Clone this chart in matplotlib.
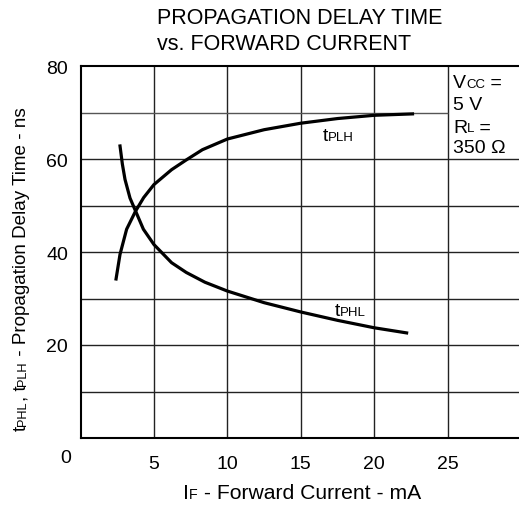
import matplotlib
matplotlib.use("Agg")
import matplotlib.pyplot as plt

plt.rcParams['font.family'] = ['Liberation Sans', 'DejaVu Sans']

# data
tplh_x = [2.42, 2.69, 3.14, 3.75, 4.3, 5.0, 6.2, 7.2, 8.3, 10.0, 12.5, 15.0, 17.5, 20.0, 22.6]
tplh_y = [34.2, 39.5, 44.9, 48.8, 51.7, 54.5, 57.7, 59.8, 62.0, 64.3, 66.3, 67.7, 68.7, 69.4, 69.7]
tphl_x = [2.69, 2.85, 3.03, 3.37, 3.75, 4.28, 5.0, 6.2, 7.2, 8.47, 10.0, 12.5, 15.0, 17.5, 20.0, 22.2]
tphl_y = [62.8, 58.9, 55.6, 51.6, 48.8, 44.9, 41.6, 37.7, 35.6, 33.5, 31.6, 29.1, 27.1, 25.3, 23.7, 22.6]
x_ticks = [5, 10, 15, 20, 25]
y_ticks = [20, 40, 60, 80]
x_grid = [5, 10, 15, 20, 25]
y_grid = [10, 20, 30, 40, 50, 60]

BIG = 14
SMALL = 9.5
DESC = 0.21  # rough descent of the font, in em


def chain(ax, x, y, parts, transform, rotation=0, holder=None, big=BIG, small=SMALL):
    # draw text pieces one after another, small pieces for subscripts,
    # shifted so that all pieces sit on one baseline
    holder = holder or ax
    shift = (big - small) * DESC
    first_txt, first_small = parts[0]
    was_small = first_small
    if rotation == 0:
        prev = holder.text(x, y, first_txt, fontsize=small if first_small else big,
                           transform=transform, ha='left', va='bottom')
    else:
        prev = holder.text(x, y, first_txt, fontsize=small if first_small else big,
                           transform=transform, ha='right', va='bottom', rotation=90)
    for txt, is_small in parts[1:]:
        d = 0.0
        if is_small and not was_small:
            d = shift
        elif was_small and not is_small:
            d = -shift
        if rotation == 0:
            prev = ax.annotate(txt, xy=(1, 0), xycoords=prev, xytext=(0, d),
                               textcoords='offset points',
                               fontsize=small if is_small else big,
                               ha='left', va='bottom', annotation_clip=False)
        else:
            prev = ax.annotate(txt, xy=(1, 1), xycoords=prev, xytext=(-d, 0),
                               textcoords='offset points',
                               fontsize=small if is_small else big,
                               ha='right', va='bottom', rotation=90,
                               annotation_clip=False)
        was_small = is_small


fig = plt.figure(figsize=(5.19, 5.10), dpi=100)
W, H = 519.0, 510.0
ax = fig.add_axes([80.5 / W, 1 - 439 / H, 1 - 80.5 / W, (439 - 67) / H])
ax.set_xlim(0, 29.85)
ax.set_ylim(0, 80)

for gx in x_grid:
    ax.vlines(gx, 0, 80, color='#222222', lw=1.0, zorder=1)
for gy in y_grid:
    ax.hlines(gy, 0, 29.85, color='#222222', lw=1.0, zorder=1)
ax.hlines(70, 0, 25, color='#555555', lw=1.0, zorder=1)

ax.plot(tplh_x, tplh_y, color='black', lw=2.3, zorder=3, solid_joinstyle='round')
ax.plot(tphl_x, tphl_y, color='black', lw=2.3, zorder=3, solid_joinstyle='round')

for s in ['left', 'bottom', 'top']:
    ax.spines[s].set_linewidth(1.5)
ax.spines['right'].set_visible(False)

ax.set_xticks(x_ticks)
ax.set_yticks(y_ticks)
ax.tick_params(length=0, labelsize=BIG)
ax.tick_params(axis='x', pad=12)
ax.tick_params(axis='y', pad=9)
fig.text(66 / W, 1 - 459 / H, '0', fontsize=BIG, ha='center', va='center')

# curve labels
chain(ax, 16.5, 63.2, [('t', False), ('PLH', True)], ax.transData)
chain(ax, 17.3, 25.6, [('t', False), ('PHL', True)], ax.transData)

# conditions box
chain(ax, 25.35, 74.6, [('V', False), ('CC', True), (' =', False)], ax.transData)
ax.text(25.35, 69.8, '5 V', fontsize=BIG, va='bottom')
chain(ax, 25.35, 65.0, [('R', False), ('L', True), (' =', False)], ax.transData)
ax.text(25.35, 60.6, '350 Ω', fontsize=BIG, va='bottom')

# title
fig.text(157 / W, 1 - 19 / H, 'PROPAGATION DELAY TIME', fontsize=15.5, ha='left', va='center')
fig.text(157 / W, 1 - 45 / H, 'vs. FORWARD CURRENT', fontsize=15.5, ha='left', va='center')

# axis labels
chain(ax, 183 / W, 1 - 503 / H,
      [('I', False), ('F', True), (' - Forward Current - mA', False)],
      fig.transFigure, holder=fig, big=15.2, small=10.3)
chain(ax, 30 / W, 1 - 431 / H,
      [('t', False), ('PHL', True), (', t', False), ('PLH', True),
       (' - Propagation Delay Time - ns', False)], fig.transFigure, rotation=90,
      holder=fig, big=13.6, small=9.2)

fig.savefig('out.png', dpi=100)
